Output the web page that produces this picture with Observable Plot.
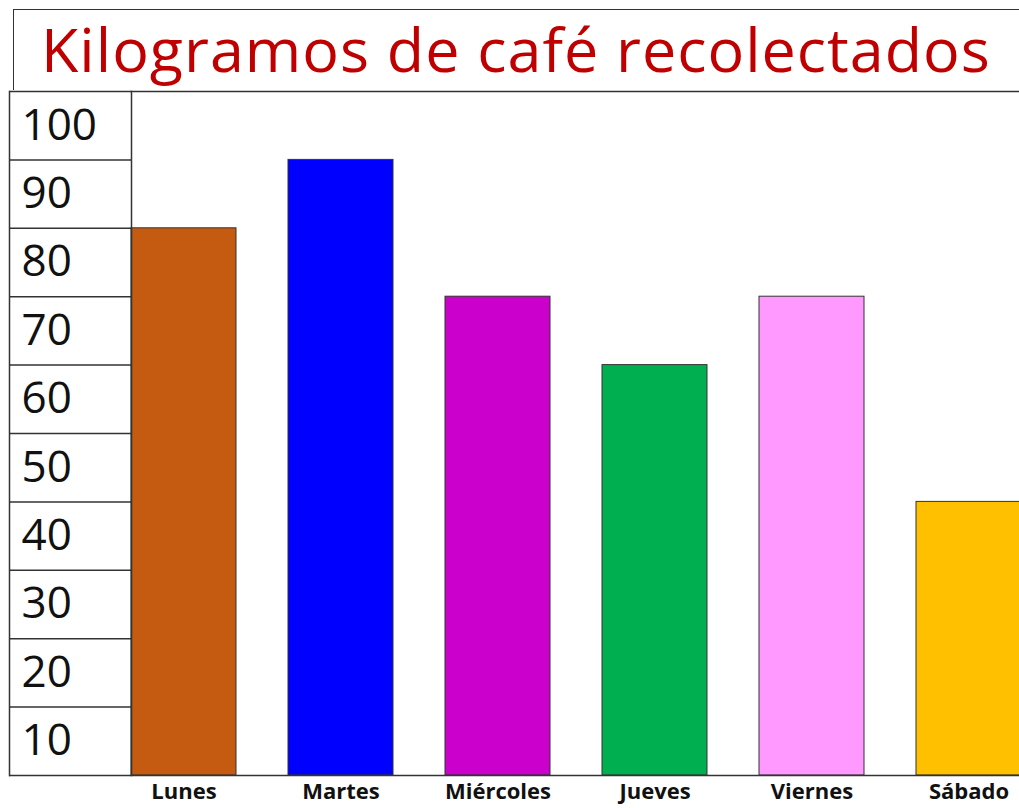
<!DOCTYPE html>
<html>
<head>
<meta charset="utf-8">
<script src="https://cdn.jsdelivr.net/npm/d3@7"></script>
<script src="https://cdn.jsdelivr.net/npm/@observablehq/plot@0.6"></script>
<style>
  html, body { margin: 0; padding: 0; background: #fff; overflow: hidden; }
  #title {
    margin: 9px 0 0 13px;
    height: 81px;
    box-sizing: border-box;
    border-top: 1.5px solid #333;
    border-left: 1.5px solid #333;
    color: #c00000;
    font-family: "Open Sans", sans-serif;
    font-size: 61px;
    line-height: 78px;
    padding-left: 27px;
    white-space: nowrap;
    letter-spacing: 1px;
  }
  #chart svg { display: block; }
</style>
</head>
<body>
<div id="title">Kilogramos de café recolectados</div>
<div id="chart"></div>
<script>
const days = ["Lunes", "Martes", "Miércoles", "Jueves", "Viernes", "Sábado"];
const kilos = [80, 90, 70, 60, 70, 40];
const colors = ["#c55a11", "#0000ff", "#cc00cc", "#00b050", "#ff99ff", "#ffc000"];
const gridTicks = [0, 10, 20, 30, 40, 50, 60, 70, 80, 90, 100];
const labelTicks = [10, 20, 30, 40, 50, 60, 70, 80, 90, 100];

const data = days.map((d, i) => ({day: days[i], kg: kilos[i], color: colors[i]}));

const chart = Plot.plot({
  width: 1019,
  height: 718,
  marginTop: 1,
  marginBottom: 33,
  marginLeft: 131,
  marginRight: 0,
  style: {fontFamily: "Open Sans, sans-serif", background: "#fff"},
  x: {domain: days, range: [131, 1026], paddingInner: 0.331, paddingOuter: 0, align: 0},
  y: {domain: [0, 100]},
  marks: [
    Plot.barY(data, {x: "day", y: "kg", fill: "color", stroke: "#333", strokeWidth: 1}),
    Plot.axisY(gridTicks, {tickSize: 122, tickFormat: () => "", label: null, stroke: "#333", strokeWidth: 1.5, strokeOpacity: 1}),
    Plot.axisY(labelTicks, {tickSize: 0, tickPadding: 110, textAnchor: "start", dy: 34, label: null, fontSize: 44, fill: "#111", fontFamily: "Open Sans, sans-serif"}),
    Plot.axisX({tickSize: 0, tickPadding: 8, fontSize: 22, fontWeight: "bold", fill: "#111", label: null, fontFamily: "Open Sans, sans-serif"}),
    Plot.frame({anchor: "left", stroke: "#333", strokeWidth: 1.5}),
    Plot.frame({anchor: "left", dx: -122, stroke: "#333", strokeWidth: 1.5}),
    Plot.frame({anchor: "top", stroke: "#333", strokeWidth: 1.5}),
    Plot.frame({anchor: "bottom", stroke: "#333", strokeWidth: 1.5})
  ]
});
document.getElementById("chart").appendChild(chart);
</script>
</body>
</html>
